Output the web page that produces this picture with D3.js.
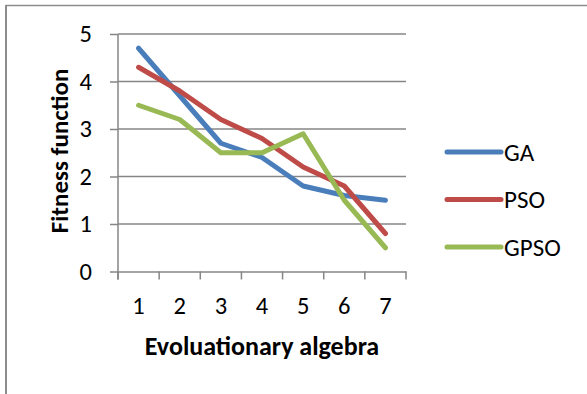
<!DOCTYPE html>
<html>
<head>
<meta charset="utf-8">
<script src="https://cdn.jsdelivr.net/npm/d3@7"></script>
<style>
  body { margin: 0; background: #fff; }
  text { font-family: Carlito, Calibri, Lato, "Liberation Sans", sans-serif; fill: #000; }
</style>
</head>
<body>
<div id="chart"></div>
<script>
// chart data
var categories = ["1", "2", "3", "4", "5", "6", "7"];
var yTicks = [0, 1, 2, 3, 4, 5];
var gaValues = [4.7, 3.7, 2.7, 2.4, 1.8, 1.6, 1.5];
var psoValues = [4.3, 3.8, 3.2, 2.8, 2.2, 1.8, 0.8];
var gpsoValues = [3.5, 3.2, 2.5, 2.5, 2.9, 1.5, 0.5];
var seriesNames = ["GA", "PSO", "GPSO"];

var series = [
  { name: seriesNames[0], values: gaValues, color: "#4a7ebb" },
  { name: seriesNames[1], values: psoValues, color: "#be4b48" },
  { name: seriesNames[2], values: gpsoValues, color: "#98b954" }
];

var width = 587, height = 394;

var svg = d3.select("#chart")
  .append("svg")
  .attr("width", width)
  .attr("height", height);

// outer frame (only top and left edges show)
svg.append("line")
  .attr("x1", 6).attr("y1", 5.5).attr("x2", 587).attr("y2", 5.5)
  .style("stroke", "#8c8c8c").style("stroke-width", 1.5);
svg.append("line")
  .attr("x1", 6).attr("y1", 5).attr("x2", 6).attr("y2", 394)
  .style("stroke", "#8c8c8c").style("stroke-width", 2);

var xScale = d3.scaleBand()
  .domain(categories)
  .range([118, 406]);

var yScale = d3.scaleLinear()
  .domain([0, 5])
  .range([271.5, 34]);

// grid lines
svg.append("g")
  .selectAll("line")
  .data(yTicks.slice(1))
  .join("line")
  .attr("x1", 118).attr("x2", 406)
  .attr("y1", d => yScale(d)).attr("y2", d => yScale(d))
  .style("stroke", "#868686")
  .style("stroke-width", 1.5);

// x axis
var xAxis = d3.axisBottom(xScale).tickSize(0);
var gx = svg.append("g")
  .attr("transform", "translate(0," + yScale(0) + ")")
  .call(xAxis);
gx.select(".domain").style("stroke", "#868686").style("stroke-width", 1.5);
gx.selectAll("text")
  .attr("y", 42)
  .attr("dy", null)
  .style("font-size", "24.5px");

// x boundary ticks
svg.append("g")
  .selectAll("line")
  .data(categories.concat(["end"]))
  .join("line")
  .attr("x1", (d, i) => xScale.range()[0] + i * xScale.step())
  .attr("x2", (d, i) => xScale.range()[0] + i * xScale.step())
  .attr("y1", yScale(0))
  .attr("y2", yScale(0) + 8)
  .style("stroke", "#868686")
  .style("stroke-width", 1.5);

// y axis
var yAxis = d3.axisLeft(yScale)
  .tickValues(yTicks)
  .tickFormat(d3.format("d"))
  .tickSize(8)
  .tickPadding(18);
var gy = svg.append("g")
  .attr("transform", "translate(118,0)")
  .call(yAxis);
gy.select(".domain").remove();
gy.selectAll("line").style("stroke", "#868686").style("stroke-width", 1.5);
gy.selectAll("text").style("font-size", "24.5px");
gy.append("line")
  .attr("x1", 0).attr("x2", 0)
  .attr("y1", yScale(5)).attr("y2", yScale(0) + 8)
  .style("stroke", "#868686").style("stroke-width", 1.5);

// lines
var line = d3.line()
  .x((d, i) => xScale(categories[i]) + xScale.bandwidth() / 2)
  .y(d => yScale(d));

svg.append("g")
  .selectAll("path")
  .data(series)
  .join("path")
  .attr("d", d => line(d.values))
  .style("fill", "none")
  .style("stroke", d => d.color)
  .style("stroke-width", 5)
  .style("stroke-linejoin", "round")
  .style("stroke-linecap", "round");

// axis titles
svg.append("text")
  .attr("x", 262)
  .attr("y", 355)
  .style("text-anchor", "middle")
  .style("font-size", "26px")
  .style("font-weight", "bold")
  .text("Evoluationary algebra");

svg.append("text")
  .attr("transform", "translate(68,151) rotate(-90)")
  .style("text-anchor", "middle")
  .style("font-size", "25px")
  .style("font-weight", "bold")
  .text("Fitness function");

// legend
var legend = svg.append("g")
  .selectAll("g")
  .data(series)
  .join("g")
  .attr("transform", (d, i) => "translate(0," + (152 + i * 47.5) + ")");

legend.append("line")
  .attr("x1", 447).attr("x2", 501)
  .attr("y1", 0).attr("y2", 0)
  .style("stroke", d => d.color)
  .style("stroke-width", 5)
  .style("stroke-linecap", "round");

legend.append("text")
  .attr("x", 504)
  .attr("y", 8.5)
  .style("font-size", "25px")
  .text(d => d.name);
</script>
</body>
</html>
